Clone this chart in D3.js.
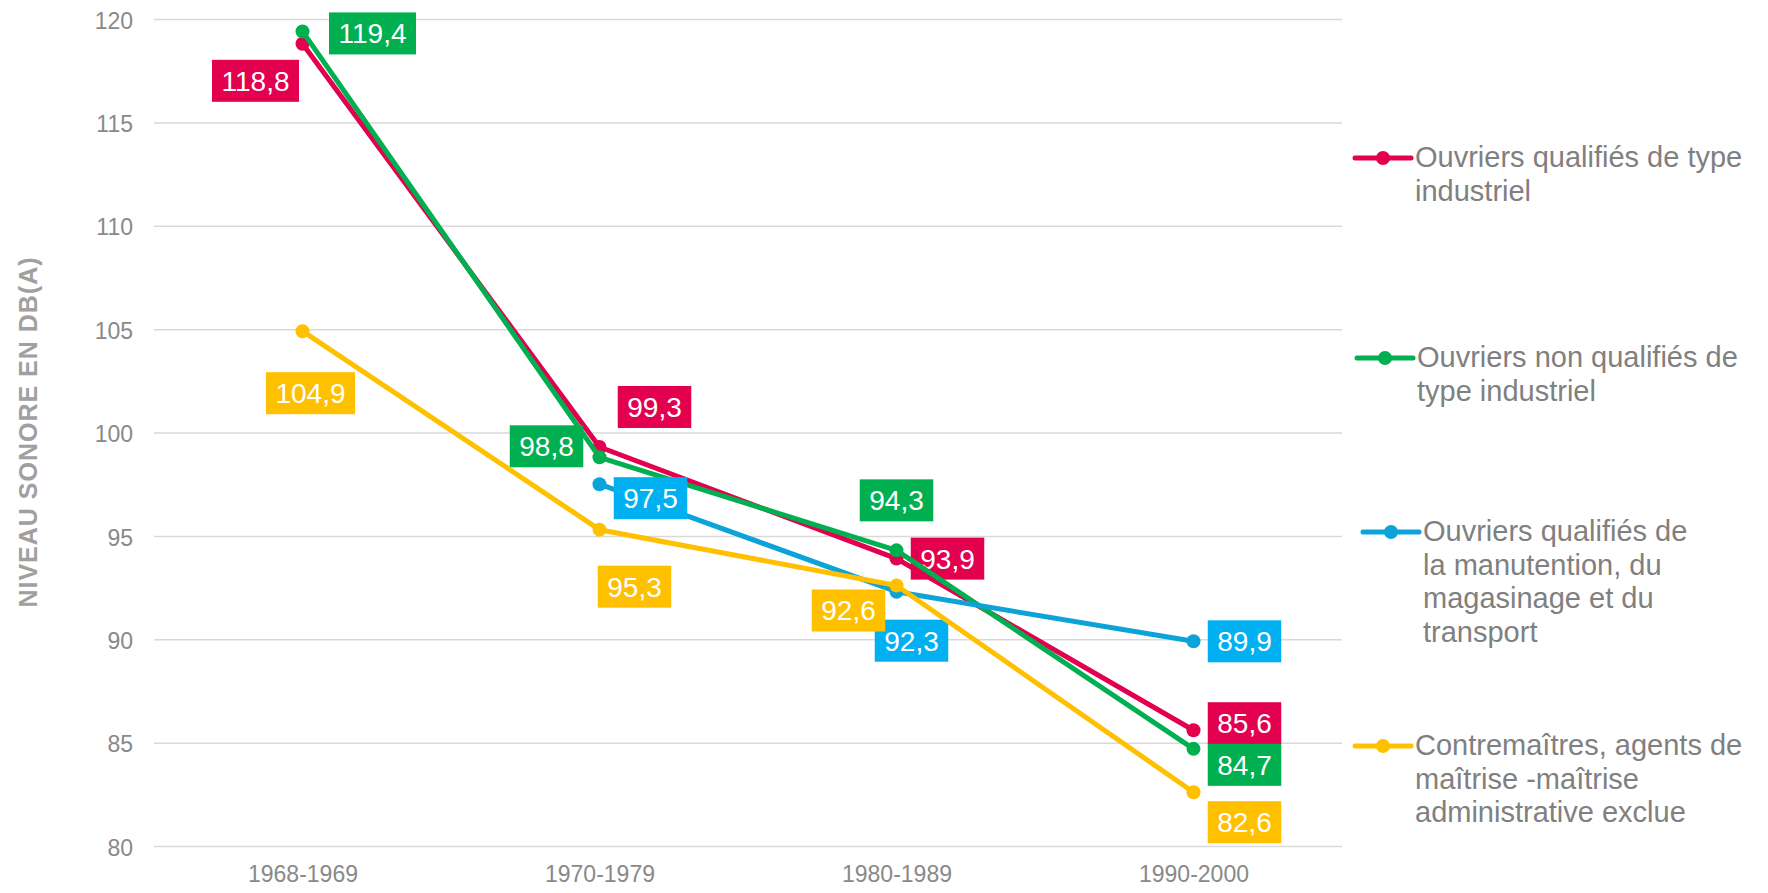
<!DOCTYPE html>
<html><head><meta charset="utf-8">
<script src="https://cdn.jsdelivr.net/npm/d3@7"></script>
<style>
body{margin:0;background:#fff;}
svg{display:block;font-family:"Liberation Sans",Arial,Helvetica,sans-serif;}
</style>
</head><body>
<svg id="chart" width="1768" height="893"></svg>
<script>
// ---------- data ----------
const categories = ["1968-1969", "1970-1979", "1980-1989", "1990-2000"];
const seriesNames = [
  "Ouvriers qualifiés de type industriel",
  "Ouvriers non qualifiés de type industriel",
  "Ouvriers qualifiés de la manutention, du magasinage et du transport",
  "Contremaîtres, agents de maîtrise -maîtrise administrative exclue"
];
const legendLines = [
  ["Ouvriers qualifiés de type", "industriel"],
  ["Ouvriers non qualifiés de", "type industriel"],
  ["Ouvriers qualifiés de", "la manutention, du", "magasinage et du", "transport"],
  ["Contremaîtres, agents de", "maîtrise -maîtrise", "administrative exclue"]
];
const qualifiesIndustriel = [118.8, 99.3, 93.9, 85.6];
const nonQualifiesIndustriel = [119.4, 98.8, 94.3, 84.7];
const manutentionTransport = [null, 97.5, 92.3, 89.9];
const contremaitres = [104.9, 95.3, 92.6, 82.6];
const yTicks = [80, 85, 90, 95, 100, 105, 110, 115, 120];
const yTitle = "NIVEAU SONORE EN DB(A)";

// ---------- layout / style (not data) ----------
const lineColors = ["#E2004F", "#00B050", "#0CA3D8", "#FFC000"];
const boxColors  = ["#E2004F", "#00B050", "#00B0F0", "#FFC000"];
// label box centre offsets from the point, in px
const labelOffsets = [
  [[-47, 37], [55, -40], [51, 0], [51, -7]],
  [[70, 2], [-53, -11], [0, -50], [51, 16]],
  [null, [51, 14], [15, 49], [51, 0]],
  [[8, 62], [35, 57], [-48, 25], [51, 30]]
];
const legendLayout = [
  {lineX: 1355, textX: 1415, y: 158},
  {lineX: 1357, textX: 1417, y: 358},
  {lineX: 1363, textX: 1423, y: 532},
  {lineX: 1355, textX: 1415, y: 746}
];

const allSeries = [qualifiesIndustriel, nonQualifiesIndustriel, manutentionTransport, contremaitres];

const svg = d3.select("#chart");
const plotLeft = 154, plotRight = 1342, plotTop = 19, plotBottom = 846;

const x = d3.scalePoint().domain(categories).range([plotLeft, plotRight]).padding(0.5);
const y = d3.scaleLinear().domain([80, 120]).range([plotBottom, plotTop]);

// gridlines
const grid = svg.append("g").attr("transform", `translate(${plotLeft},0)`)
  .call(d3.axisLeft(y).tickValues(yTicks).tickSize(-(plotRight - plotLeft)).tickFormat(""));
grid.select(".domain").remove();
grid.selectAll("line").attr("stroke", "#D9D9D9").attr("stroke-width", 1.5);

// y tick labels
const yAx = svg.append("g").attr("transform", `translate(${plotLeft},0)`)
  .call(d3.axisLeft(y).tickValues(yTicks).tickSize(0).tickPadding(21));
yAx.select(".domain").remove();
yAx.selectAll("text").attr("font-size", 23).attr("fill", "#898989")
  .attr("font-family", "Liberation Sans, Arial, sans-serif").attr("dy", "0.4em");

// x tick labels
const xAx = svg.append("g").attr("transform", `translate(0,${plotBottom})`)
  .call(d3.axisBottom(x).tickSize(0).tickPadding(20));
xAx.select(".domain").remove();
xAx.selectAll("text").attr("font-size", 23).attr("fill", "#898989")
  .attr("font-family", "Liberation Sans, Arial, sans-serif");

// y title
svg.append("text")
  .attr("transform", "translate(37,432) rotate(-90)")
  .attr("text-anchor", "middle")
  .attr("font-size", 25).attr("font-weight", "bold")
  .attr("letter-spacing", 1)
  .attr("fill", "#A0A0A0")
  .text(yTitle);

const fmt = v => v.toFixed(1).replace(".", ",");

// series: line, markers, labels (per series in order)
allSeries.forEach((vals, si) => {
  const pts = vals.map((v, i) => ({v, i, c: categories[i]})).filter(d => d.v != null);
  const g = svg.append("g");
  g.append("path").datum(pts)
    .attr("fill", "none").attr("stroke", lineColors[si]).attr("stroke-width", 5)
    .attr("stroke-linejoin", "round").attr("stroke-linecap", "round")
    .attr("d", d3.line().x(d => x(d.c)).y(d => y(d.v)));
  g.selectAll("circle").data(pts).join("circle")
    .attr("cx", d => x(d.c)).attr("cy", d => y(d.v)).attr("r", 7)
    .attr("fill", lineColors[si]);
  pts.forEach(d => {
    const off = labelOffsets[si][d.i];
    const cx = x(d.c) + off[0], cy = y(d.v) + off[1];
    const lg = g.append("g");
    const rect = lg.append("rect").attr("fill", boxColors[si]);
    const t = lg.append("text").attr("x", cx).attr("y", cy + 10)
      .attr("text-anchor", "middle").attr("font-size", 28).attr("fill", "#fff")
      .text(fmt(d.v));
    const w = t.node().getComputedTextLength() + 19;
    rect.attr("x", cx - w / 2).attr("y", cy - 21).attr("width", w).attr("height", 42);
  });
});

// legend
legendLayout.forEach((L, si) => {
  const g = svg.append("g");
  g.append("line").attr("x1", L.lineX).attr("x2", L.lineX + 56)
    .attr("y1", L.y).attr("y2", L.y)
    .attr("stroke", lineColors[si]).attr("stroke-width", 5).attr("stroke-linecap", "round");
  g.append("circle").attr("cx", L.lineX + 28).attr("cy", L.y).attr("r", 7).attr("fill", lineColors[si]);
  const t = g.append("text").attr("x", L.textX).attr("y", L.y + 9)
    .attr("font-size", 29).attr("fill", "#808080");
  legendLines[si].forEach((ln, k) => {
    t.append("tspan").attr("x", L.textX).attr("dy", k === 0 ? 0 : 33.7).text(ln);
  });
});
</script>
</body></html>
